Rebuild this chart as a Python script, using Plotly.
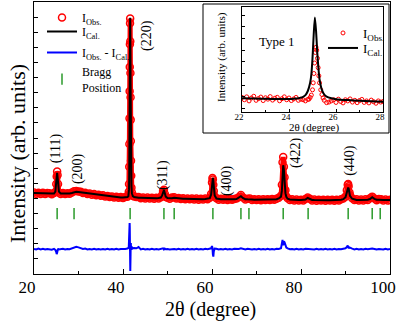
import plotly.graph_objects as go

# ===== DATA: main Rietveld pattern (values in arbitrary intensity units) =====
two_theta = [
    20, 20.5, 21, 21.5, 22, 22.5, 23, 23.5, 24, 24.5,
    24.8, 25.0, 25.1, 25.2, 25.3, 25.4, 25.6,
    26, 26.5, 27, 27.5, 28, 28.5, 29, 29.5, 30, 30.5, 31, 31.5, 32, 32.5, 33, 33.5, 34, 34.5,
    35, 35.5, 36, 36.5, 37, 37.5, 38, 38.5, 39, 39.5, 40, 40.5,
    41.0, 41.2, 41.3, 41.35, 41.4, 41.43, 41.46, 41.49, 41.52, 41.55, 41.58, 41.61, 41.64,
    41.67, 41.70, 41.73, 41.76, 41.80, 41.85, 41.90, 42.0, 42.2,
    42.5, 43, 43.5, 44, 44.5, 45, 45.5, 46, 46.5, 47, 47.5, 48, 48.5,
    48.8, 49.0, 49.2, 49.4, 49.6,
    50, 50.5, 51, 51.5, 52, 52.5, 53, 53.5, 54, 54.5, 55, 55.5, 56, 56.5, 57, 57.5, 58, 58.5, 59, 59.5,
    59.8, 60.0, 60.1, 60.2, 60.3, 60.4, 60.6,
    61, 61.5, 62, 62.5, 63, 63.5, 64, 64.5, 65, 65.5, 66, 66.5, 67, 67.5, 68, 68.5, 69, 69.5,
    70, 70.5, 71, 71.5, 72, 72.5, 73, 73.5, 74, 74.5, 75, 75.5,
    75.7, 75.85, 76.0, 76.15, 76.3, 76.5, 76.7,
    77, 77.5, 78, 78.5, 79, 79.5, 80, 80.5, 81, 81.5, 82, 82.5, 83, 83.5, 84, 84.5, 85, 85.5,
    86, 86.5, 87, 87.5, 88, 88.5, 89, 89.5, 90,
    90.3, 90.5, 90.6, 90.7, 90.9,
    91, 91.5, 92, 92.5, 93, 93.5, 94, 94.5, 95, 95.5, 96, 96.5, 97, 97.5, 98, 98.5, 99, 99.5, 100,
]
i_obs = [
    5.40, 5.31, 5.38, 5.30, 5.37, 5.29, 5.36, 5.35, 5.28, 5.36,
    5.42, 5.95, 6.45, 6.78, 6.55, 5.95, 5.40,
    5.30, 5.36, 5.29, 5.35, 5.31, 5.40, 5.47, 5.50, 5.46, 5.44, 5.36, 5.38, 5.29, 5.33, 5.25, 5.29, 5.21, 5.25,
    5.18, 5.21, 5.13, 5.17, 5.10, 5.13, 5.06, 5.11, 5.04, 5.09, 5.03, 5.09,
    5.12, 5.22, 5.45, 5.95, 7.10, 8.60, 10.30, 12.10, 13.70, 15.20, 16.60, 16.90, 15.40,
    13.30, 11.70, 10.20, 8.80, 7.50, 6.50, 5.70, 5.40, 5.18,
    5.13, 5.10, 5.09, 5.01, 5.07, 5.00, 5.06, 4.99, 5.05, 4.98, 5.04, 5.00, 5.08,
    5.22, 5.50, 5.58, 5.30, 5.10,
    5.05, 4.98, 5.06, 5.08, 4.99, 5.03, 4.96, 5.01, 4.95, 5.00, 4.94, 4.99, 4.93, 4.99, 4.92, 4.98, 4.93, 4.99, 4.95, 5.05,
    5.30, 6.05, 6.35, 6.25, 5.90, 5.50, 5.15,
    5.02, 4.92, 4.98, 4.91, 4.97, 4.90, 4.96, 4.91, 4.97, 4.99, 5.08, 5.22, 5.06, 4.93, 4.98, 4.99, 4.90, 4.95,
    4.89, 4.94, 4.88, 4.94, 4.89, 4.95, 4.90, 4.96, 4.91, 4.98, 5.04, 5.18,
    5.90, 7.40, 7.75, 7.10, 6.40, 5.55, 5.15,
    5.02, 4.90, 4.95, 4.87, 4.93, 4.86, 4.92, 4.87, 4.96, 5.07, 4.98, 4.87, 4.93, 4.85, 4.92, 4.86, 4.91, 4.85,
    4.92, 4.86, 4.91, 4.85, 4.92, 4.87, 4.94, 4.99, 5.12,
    5.55, 5.90, 5.95, 5.80, 5.40,
    5.22, 5.02, 4.89, 4.94, 4.86, 4.93, 4.87, 4.94, 4.90, 5.01, 5.12, 5.00, 4.88, 4.96, 4.95, 4.87, 4.93, 4.86, 4.92,
]
i_cal = [
    5.36, 5.35, 5.35, 5.34, 5.34, 5.33, 5.33, 5.32, 5.32, 5.32,
    5.45, 6.10, 6.55, 6.69, 6.40, 5.85, 5.45,
    5.33, 5.32, 5.32, 5.32, 5.33, 5.36, 5.42, 5.44, 5.43, 5.41, 5.38, 5.35, 5.32, 5.30, 5.28, 5.26, 5.24, 5.22,
    5.20, 5.18, 5.16, 5.14, 5.12, 5.10, 5.09, 5.08, 5.07, 5.06, 5.06, 5.07,
    5.09, 5.15, 5.30, 5.60, 6.50, 7.80, 9.50, 11.30, 13.00, 14.80, 16.40, 16.95, 16.20,
    14.50, 12.60, 10.90, 9.30, 7.80, 6.60, 5.80, 5.35, 5.15,
    5.10, 5.06, 5.05, 5.05, 5.04, 5.04, 5.03, 5.03, 5.02, 5.02, 5.02, 5.03, 5.06,
    5.20, 5.45, 5.55, 5.35, 5.12,
    5.03, 5.01, 5.02, 5.05, 5.02, 5.00, 4.99, 4.98, 4.98, 4.97, 4.97, 4.96, 4.96, 4.96, 4.95, 4.95, 4.95, 4.96, 4.97, 5.02,
    5.25, 5.90, 6.25, 6.36, 6.15, 5.70, 5.20,
    4.99, 4.95, 4.94, 4.94, 4.93, 4.93, 4.93, 4.93, 4.94, 4.96, 5.03, 5.15, 5.02, 4.95, 4.94, 4.96, 4.93, 4.92,
    4.92, 4.91, 4.91, 4.91, 4.91, 4.91, 4.92, 4.92, 4.93, 4.95, 5.00, 5.12,
    5.50, 6.50, 7.20, 6.90, 6.00, 5.35, 5.10,
    4.98, 4.93, 4.91, 4.90, 4.90, 4.89, 4.89, 4.90, 4.93, 5.03, 4.95, 4.90, 4.89, 4.88, 4.88, 4.88, 4.88, 4.88,
    4.88, 4.88, 4.88, 4.88, 4.89, 4.89, 4.91, 4.95, 5.08,
    5.40, 5.68, 5.72, 5.65, 5.35,
    5.18, 4.98, 4.92, 4.90, 4.89, 4.89, 4.89, 4.90, 4.92, 4.96, 5.08, 4.97, 4.91, 4.92, 4.93, 4.90, 4.89, 4.89, 4.89,
]
i_diff = [
    1.66, 1.62, 1.68, 1.63, 1.67, 1.62, 1.66, 1.65, 1.61, 1.66,
    1.60, 1.45, 1.32, 1.40, 1.55, 1.68, 1.62,
    1.63, 1.67, 1.62, 1.66, 1.64, 1.69, 1.72, 1.80, 1.76, 1.72, 1.66, 1.68, 1.62, 1.66, 1.63, 1.67, 1.62, 1.66,
    1.63, 1.66, 1.62, 1.67, 1.63, 1.66, 1.62, 1.67, 1.63, 1.66, 1.64, 1.66,
    1.68, 1.72, 1.80, 2.10, 2.50, 2.90, 3.20, 3.38, 3.10, 2.20, 1.20, 0.50, 0.20,
    0.60, 1.30, 1.90, 2.05, 1.70, 1.85, 1.60, 1.78, 1.70,
    1.72, 1.70, 1.78, 1.63, 1.67, 1.62, 1.66, 1.62, 1.67, 1.63, 1.66, 1.63, 1.65,
    1.66, 1.70, 1.62, 1.68, 1.64,
    1.66, 1.63, 1.67, 1.66, 1.62, 1.67, 1.63, 1.66, 1.62, 1.67, 1.63, 1.66, 1.62, 1.67, 1.63, 1.66, 1.63, 1.67, 1.64, 1.66,
    1.70, 1.85, 1.72, 1.30, 1.15, 1.50, 1.68,
    1.67, 1.62, 1.66, 1.63, 1.67, 1.62, 1.66, 1.63, 1.67, 1.64, 1.66, 1.70, 1.66, 1.62, 1.67, 1.65, 1.62, 1.66,
    1.63, 1.67, 1.62, 1.66, 1.63, 1.67, 1.62, 1.66, 1.63, 1.67, 1.65, 1.70,
    2.20, 2.25, 1.90, 2.15, 2.10, 1.90, 1.75,
    1.70, 1.64, 1.66, 1.62, 1.67, 1.63, 1.66, 1.62, 1.67, 1.66, 1.63, 1.66, 1.62, 1.67, 1.63, 1.66, 1.62, 1.67,
    1.63, 1.66, 1.62, 1.67, 1.63, 1.66, 1.64, 1.67, 1.70,
    1.78, 1.88, 1.82, 1.70, 1.76,
    1.74, 1.68, 1.63, 1.67, 1.62, 1.66, 1.63, 1.67, 1.64, 1.66, 1.69, 1.66, 1.62, 1.66, 1.65, 1.62, 1.67, 1.63, 1.66,
]

# Bragg reflection positions and the level where the tick marks sit
bragg_pos = [25.2, 29.0, 41.6, 49.2, 51.5, 60.2, 66.5, 68.3, 76.0, 81.6, 90.6, 96.0, 97.8]
bragg_level = 4.0

# Miller index labels (position of rotated label in data units)
hkl_text = ["(111)", "(200)", "(220)", "(311)", "(400)", "(422)", "(440)"]
hkl_x = [25.0, 29.9, 45.4, 49.0, 63.4, 78.9, 91.0]
hkl_y = [8.34, 6.95, 15.76, 6.55, 6.16, 8.01, 7.55]

# ===== DATA: inset (Type 1 peak) =====
inset_obs_x = [
    22.0, 22.1, 22.2, 22.3, 22.4, 22.5, 22.6, 22.7, 22.8, 22.9, 23.0, 23.1, 23.2, 23.3, 23.4,
    23.5, 23.6, 23.7, 23.8, 23.9, 24.0, 24.1, 24.2, 24.3, 24.4, 24.5, 24.6, 24.7, 24.8,
    24.85, 24.9, 24.95, 25.0, 25.03, 25.06, 25.09, 25.12, 25.15, 25.18, 25.21, 25.24, 25.27,
    25.3, 25.35, 25.4, 25.45, 25.5, 25.6, 25.7, 25.8,
    25.9, 26.0, 26.1, 26.2, 26.3, 26.4, 26.5, 26.6, 26.7, 26.8, 26.9, 27.0, 27.1, 27.2,
    27.3, 27.4, 27.5, 27.6, 27.7, 27.8, 27.9, 28.0,
]
inset_obs_y = [
    1.25, 1.05, 1.30, 0.95, 1.20, 1.35, 1.00, 1.15, 1.28, 0.98, 1.22, 1.10, 1.32, 1.02, 1.18,
    1.26, 0.96, 1.14, 1.30, 1.05, 1.20, 0.98, 1.12, 1.25, 1.00, 1.10, 1.05, 0.95, 1.08,
    1.10, 1.25, 1.45, 1.90, 2.50, 3.30, 4.20, 5.10, 5.55, 5.30, 4.60, 3.80, 3.10,
    2.50, 1.90, 1.50, 1.20, 1.00, 0.80, 0.85, 0.95,
    1.05, 0.82, 1.10, 0.90, 0.78, 1.05, 0.95, 1.12, 0.85, 1.00, 0.80, 0.98, 1.08, 0.82,
    0.95, 0.78, 1.02, 0.88, 0.75, 0.95, 0.85, 0.90,
]
inset_cal_x = [22.0, 22.5, 23.0, 23.5, 24.0, 24.2, 24.4, 24.6, 24.7, 24.8, 24.9, 24.95, 25.0, 25.05,
               25.1, 25.15, 25.2, 25.25, 25.3, 25.4, 25.5, 25.6, 25.8, 26.0, 26.5, 27.0, 27.5, 28.0]
inset_cal_y = [1.17, 1.15, 1.13, 1.12, 1.12, 1.14, 1.18, 1.30, 1.45, 1.80, 2.50, 3.20, 4.60, 6.60,
               8.10, 7.00, 5.20, 3.80, 2.80, 1.90, 1.50, 1.32, 1.18, 1.10, 1.02, 0.97, 0.92, 0.88]

SERIF = "Liberation Serif, Times New Roman, serif"
RED = "#ff0000"
GREEN = "#2a9a2a"

# plot-area geometry in pixels (used only to place paper-referenced text)
L, R, T, B = 34, 390, 2, 274


def px(x):
    return (x - L) / (R - L)


def py(y):
    return (B - y) / (B - T)


fig = go.Figure()

# dense observed scan drawn as a thick red band, circles on top
fig.add_trace(go.Scatter(
    x=two_theta, y=i_obs, mode="lines", line=dict(color=RED, width=5),
    showlegend=False, hoverinfo="skip",
))
fig.add_trace(go.Scatter(
    x=two_theta, y=i_obs, mode="markers", name="I<sub>Obs.</sub>",
    marker=dict(symbol="circle-open", size=7, color=RED, line=dict(width=1.5, color=RED)),
    legend="legend",
))
fig.add_trace(go.Scatter(
    x=two_theta, y=i_cal, mode="lines", name="I<sub>Cal.</sub>",
    line=dict(color="black", width=2), legend="legend2",
))
fig.add_trace(go.Scatter(
    x=two_theta, y=i_diff, mode="lines", name="I<sub>Obs.</sub> - I<sub>Cal.</sub>",
    line=dict(color="#0000ff", width=2), legend="legend3",
))
fig.add_trace(go.Scatter(
    x=bragg_pos, y=[bragg_level] * len(bragg_pos), mode="markers", name="Bragg<br>Position",
    marker=dict(symbol="line-ns", size=8, color=GREEN, line=dict(width=1.5, color=GREEN)),
    legend="legend4",
))

# inset traces
fig.add_trace(go.Scatter(
    x=inset_obs_x, y=inset_obs_y, mode="markers", name="I<sub>Obs.</sub>", xaxis="x2", yaxis="y2",
    marker=dict(symbol="circle-open", size=4, color=RED, line=dict(width=1, color=RED)),
    legend="legend5",
))
fig.add_trace(go.Scatter(
    x=inset_cal_x, y=inset_cal_y, mode="lines", name="I<sub>Cal.</sub>", xaxis="x2", yaxis="y2",
    line=dict(color="black", width=2, shape="spline", smoothing=0.6), legend="legend6",
))

annotations = []
for t, x, y in zip(hkl_text, hkl_x, hkl_y):
    annotations.append(dict(x=x, y=y, xref="x", yref="y", text=t, textangle=-90, showarrow=False,
                            xanchor="center", yanchor="middle",
                            font=dict(family=SERIF, size=14, color="black")))


def paper_text(x, y, text, size, angle=0):
    return dict(x=px(x), y=py(y), xref="paper", yref="paper", text=text, textangle=angle,
                xanchor="center", yanchor="middle", showarrow=False,
                font=dict(family=SERIF, size=size, color="black"))


annotations += [
    paper_text(17, 154, "Intensity (arb. units)", 22, -90),
    paper_text(210, 309, "2θ (degree)", 20),
    paper_text(277, 41, "Type 1", 13),
    paper_text(314, 127, "2θ (degree)", 11),
    paper_text(222, 57, "Intensity (arb. units)", 11, -90),
]

axis_common = dict(showline=True, mirror=True, linecolor="black", linewidth=1, showgrid=False,
                   zeroline=False, ticks="inside", tickcolor="black")


def legend_box(x, y_top, size):
    return dict(x=px(x), y=py(y_top), xanchor="left", yanchor="top", bgcolor="rgba(0,0,0,0)",
                font=dict(family=SERIF, size=size, color="black"))


fig.update_layout(
    width=399, height=321, autosize=False,
    margin=dict(l=L, r=399 - R, t=T, b=321 - B),
    paper_bgcolor="white", plot_bgcolor="white",
    font=dict(family=SERIF, color="black"),
    xaxis=dict(domain=[0, 1], range=[20, 100], dtick=20, tick0=20, ticklen=5, ticklabelshift=-7,
               ticklabelstandoff=-2,
               minor=dict(dtick=10, ticklen=3, ticks="inside", tickcolor="black"),
               tickfont=dict(size=17), **axis_common),
    yaxis=dict(domain=[0, 1], range=[0, 18], dtick=1, tick0=0, ticklen=4, showticklabels=False,
               **axis_common),
    xaxis2=dict(domain=[px(242), px(383)], anchor="y2", range=[22, 28], dtick=2, tick0=22, ticklen=3,
                ticklabelshift=-3, ticklabelstandoff=-4,
                minor=dict(dtick=1, ticklen=2, ticks="inside", tickcolor="black"),
                tickfont=dict(size=9), **axis_common),
    yaxis2=dict(domain=[py(112), py(7)], anchor="x2", range=[0, 9], dtick=1, tick0=0.3, ticklen=3,
                showticklabels=False, **axis_common),
    legend=legend_box(42, 3, 12),
    legend2=legend_box(42, 17, 12),
    legend3=legend_box(42, 38, 12),
    legend4=legend_box(42, 57, 12),
    legend5=legend_box(323, 18, 13),
    legend6=legend_box(323, 33, 13),
    shapes=[dict(type="rect", xref="paper", yref="paper", x0=px(203), x1=px(389), y0=py(133), y1=py(4),
                 line=dict(color="black", width=1), fillcolor="white", layer="below")],
    annotations=annotations,
    showlegend=True,
)

# remove the browser's default page margin so the 399x321 figure fills the window
fig.write_html("out.html", config={"displayModeBar": False},
               post_script="document.body.style.margin='0';")
